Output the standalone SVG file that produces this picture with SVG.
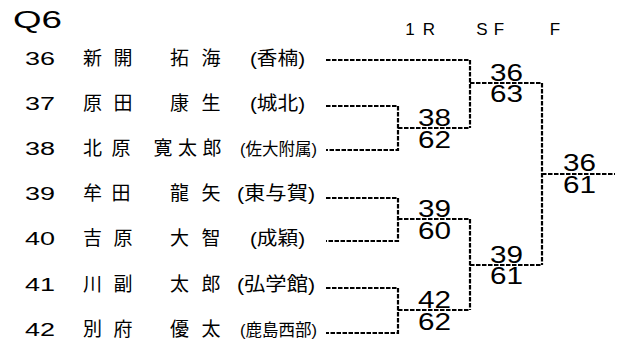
<svg xmlns="http://www.w3.org/2000/svg" width="621" height="347" viewBox="0 0 621 347">
<style>
text{font-family:"Liberation Sans","Noto Sans CJK JP",sans-serif;fill:#000}
.num{font-size:18px}
.nm{font-size:19px;text-anchor:middle}
.sc{font-size:19px}
.sc2{font-size:17px}
.hd{font-size:17px;text-anchor:middle}
.s{font-size:23px}
.ttl{font-size:24px}
.ln{fill:none;stroke:#000;stroke-width:2.2;stroke-dasharray:4.5 1.5}
</style>
<rect width="621" height="347" fill="#fff"/>
<text class="ttl" x="13" y="27.5" textLength="49" lengthAdjust="spacingAndGlyphs">Q6</text>
<g id="header">
<text class="hd" x="410 429" y="35">1R</text>
<text class="hd" x="482 499" y="35">SF</text>
<text class="hd" x="555" y="35">F</text>
</g>
<g id="p36">
<text class="num" x="25" y="65" textLength="30" lengthAdjust="spacingAndGlyphs">36</text>
<text class="nm" x="92.5 123" y="65">新開</text>
<text class="nm" x="179.5 211" y="65">拓海</text>
<text class="sc" x="250" y="65" textLength="55" lengthAdjust="spacingAndGlyphs">(香楠)</text>
</g>
<g id="p37">
<text class="num" x="25" y="110" textLength="30" lengthAdjust="spacingAndGlyphs">37</text>
<text class="nm" x="92.5 123" y="110">原田</text>
<text class="nm" x="179.5 211" y="110">康生</text>
<text class="sc" x="250" y="110" textLength="55" lengthAdjust="spacingAndGlyphs">(城北)</text>
</g>
<g id="p38">
<text class="num" x="25" y="155" textLength="30" lengthAdjust="spacingAndGlyphs">38</text>
<text class="nm" x="92.5 121" y="155">北原</text>
<text class="nm" x="163 187.5 212" y="155">寛太郎</text>
<text class="sc2" x="240" y="155" textLength="77" lengthAdjust="spacingAndGlyphs">(佐大附属)</text>
</g>
<g id="p39">
<text class="num" x="25" y="199.5" textLength="30" lengthAdjust="spacingAndGlyphs">39</text>
<text class="nm" x="92.5 121" y="199.5">牟田</text>
<text class="nm" x="179.5 211" y="199.5">龍矢</text>
<text class="sc" x="237" y="199.5" textLength="78" lengthAdjust="spacingAndGlyphs">(東与賀)</text>
</g>
<g id="p40">
<text class="num" x="25" y="245" textLength="30" lengthAdjust="spacingAndGlyphs">40</text>
<text class="nm" x="92.5 123" y="245">吉原</text>
<text class="nm" x="179.5 211" y="245">大智</text>
<text class="sc" x="250" y="245" textLength="55" lengthAdjust="spacingAndGlyphs">(成穎)</text>
</g>
<g id="p41">
<text class="num" x="25" y="290.5" textLength="30" lengthAdjust="spacingAndGlyphs">41</text>
<text class="nm" x="92.5 123" y="290.5">川副</text>
<text class="nm" x="179.5 211" y="290.5">太郎</text>
<text class="sc" x="237" y="290.5" textLength="78" lengthAdjust="spacingAndGlyphs">(弘学館)</text>
</g>
<g id="p42">
<text class="num" x="25" y="336" textLength="30" lengthAdjust="spacingAndGlyphs">42</text>
<text class="nm" x="92.5 123" y="336">別府</text>
<text class="nm" x="179.5 211" y="336">優太</text>
<text class="sc2" x="240" y="336" textLength="77" lengthAdjust="spacingAndGlyphs">(鹿島西部)</text>
</g>
<g id="connectors">
<path class="ln" d="M326 60H470V128"/>
<path class="ln" d="M326 106H398V150H326"/>
<path class="ln" d="M398 128H470"/>
<path class="ln" d="M470 83H542V265"/>
<path class="ln" d="M542 174H615"/>
<path class="ln" d="M326 198H398V241H326"/>
<path class="ln" d="M398 219H470V310"/>
<path class="ln" d="M326 288H398V333H326"/>
<path class="ln" d="M398 310H470"/>
<path class="ln" d="M470 265H542"/>
</g>
<g id="scores">
<text class="s" x="418" y="125.5" textLength="33" lengthAdjust="spacingAndGlyphs">38</text>
<text class="s" x="418" y="147.5" textLength="33" lengthAdjust="spacingAndGlyphs">62</text>
<text class="s" x="418" y="217" textLength="33" lengthAdjust="spacingAndGlyphs">39</text>
<text class="s" x="418" y="238.5" textLength="33" lengthAdjust="spacingAndGlyphs">60</text>
<text class="s" x="418" y="308" textLength="33" lengthAdjust="spacingAndGlyphs">42</text>
<text class="s" x="418" y="329.5" textLength="33" lengthAdjust="spacingAndGlyphs">62</text>
<text class="s" x="490" y="80.5" textLength="33" lengthAdjust="spacingAndGlyphs">36</text>
<text class="s" x="490" y="102" textLength="33" lengthAdjust="spacingAndGlyphs">63</text>
<text class="s" x="490" y="263" textLength="33" lengthAdjust="spacingAndGlyphs">39</text>
<text class="s" x="490" y="284" textLength="33" lengthAdjust="spacingAndGlyphs">61</text>
<text class="s" x="563" y="171" textLength="33" lengthAdjust="spacingAndGlyphs">36</text>
<text class="s" x="563" y="193" textLength="33" lengthAdjust="spacingAndGlyphs">61</text>
</g>
</svg>
